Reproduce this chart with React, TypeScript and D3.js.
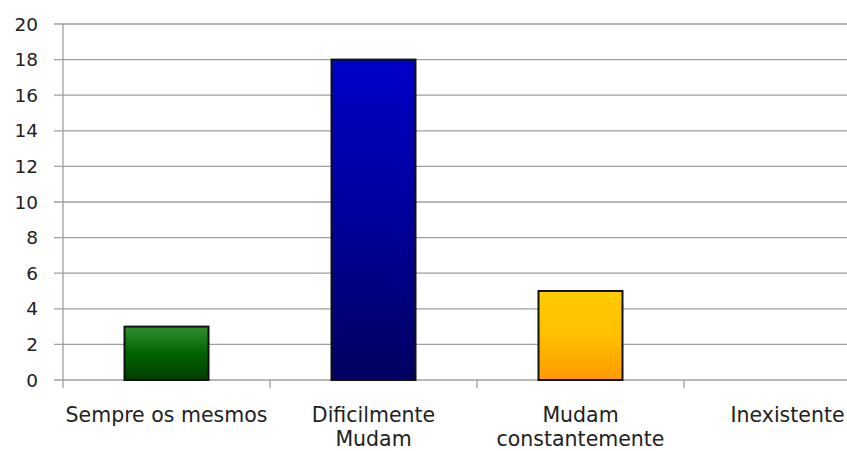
import React from "react";
import * as d3 from "d3";

const categories = ["Sempre os mesmos", "Dificilmente\nMudam", "Mudam\nconstantemente", "Inexistente"];
const values = [3, 18, 5, 0];
const yTicks = [0, 2, 4, 6, 8, 10, 12, 14, 16, 18, 20];
const gradients = [
  ["#2f8f2f", "#006400", "#003c00"],
  ["#0000c8", "#00009a", "#000060"],
  ["#ffcc00", "#ffc000", "#ff9900"],
  ["#cccccc", "#aaaaaa", "#888888"],
];

export default function App() {
  const W = 847, H = 451;
  const x0 = 63, bandW = 207;
  const x = d3.scaleBand<string>().domain(categories).range([x0, x0 + bandW * categories.length]).paddingInner(0).paddingOuter(0);
  const y = d3.scaleLinear().domain([0, 20]).range([380, 24]);
  const barW = 84;
  const font = "'DejaVu Sans', sans-serif";
  return (
    <svg width={W} height={H} style={{ position: "absolute", left: 0, top: 0 }}>
      <defs>
        {gradients.map((g, i) => (
          <linearGradient key={i} id={`g${i}`} x1="0" y1="0" x2="0" y2="1">
            <stop offset="0%" stopColor={g[0]} />
            <stop offset="50%" stopColor={g[1]} />
            <stop offset="100%" stopColor={g[2]} />
          </linearGradient>
        ))}
      </defs>
      <rect width={W} height={H} fill="#fff" />
      {yTicks.map((t) => (
        <g key={t}>
          <line x1={54} x2={W} y1={y(t)} y2={y(t)} stroke="#a0a0a0" strokeWidth={1.3} />
          <text x={38} y={y(t)} dy="0.36em" textAnchor="end" fontFamily={font} fontSize={18.5} fill="#222">{t}</text>
        </g>
      ))}
      <line x1={x0} x2={x0} y1={y(20)} y2={388} stroke="#a0a0a0" strokeWidth={1.3} />
      {categories.map((c, i) => (
        <line key={"t" + i} x1={x(c)! + bandW} x2={x(c)! + bandW} y1={380} y2={388} stroke="#a0a0a0" strokeWidth={1.3} />
      ))}
      {categories.map((c, i) => {
        const cx = x(c)! + x.bandwidth() / 2;
        const v = values[i];
        return (
          <g key={c}>
            {v > 0 && (
              <rect x={cx - barW / 2} y={y(v)} width={barW} height={y(0) - y(v)} fill={`url(#g${i})`} stroke="#111" strokeWidth={2} />
            )}
            <text x={cx} y={422} textAnchor="middle" fontFamily={font} fontSize={20.5} fill="#222">
              {c.split("\n").map((line, j) => (
                <tspan key={j} x={cx} dy={j === 0 ? 0 : 24}>{line}</tspan>
              ))}
            </text>
          </g>
        );
      })}
    </svg>
  );
}
